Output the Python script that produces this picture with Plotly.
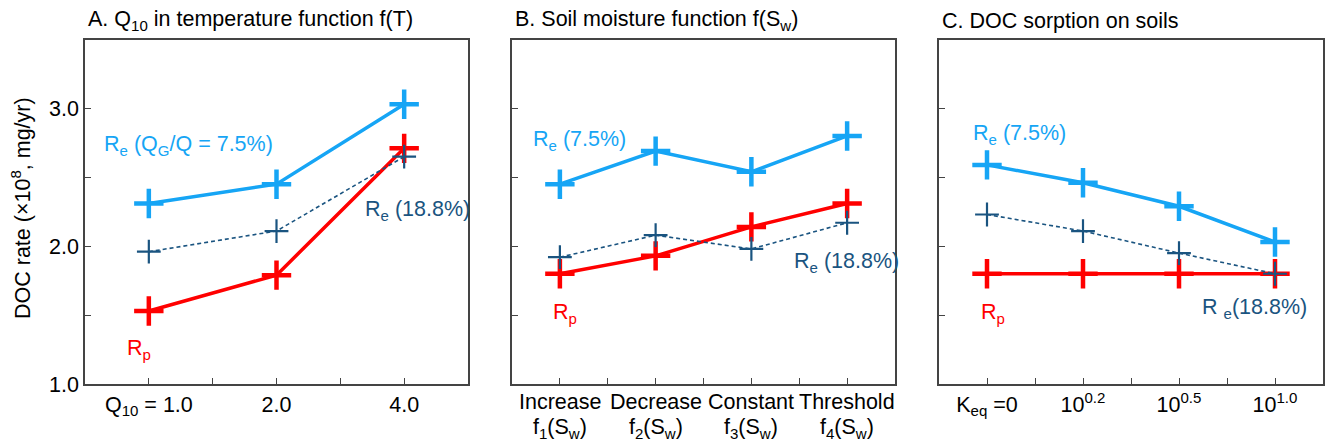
import plotly.graph_objects as go

# ---------------- data ----------------
a_ticks = ["Q<sub>10</sub> = 1.0", "2.0", "4.0"]
a_re75 = [2.31, 2.45, 3.03]
a_rp = [1.53, 1.79, 2.71]
a_re188 = [1.96, 2.11, 2.65]

b_ticks_line1 = ["Increase", "Decrease", "Constant", "Threshold"]
b_ticks_line2 = ["f<sub>1</sub>(S<sub>w</sub>)", "f<sub>2</sub>(S<sub>w</sub>)",
                 "f<sub>3</sub>(S<sub>w</sub>)", "f<sub>4</sub>(S<sub>w</sub>)"]
b_re75 = [2.45, 2.69, 2.54, 2.80]
b_rp = [1.80, 1.93, 2.14, 2.31]
b_re188 = [1.92, 2.08, 1.98, 2.17]

c_ticks = ["K<sub>eq</sub> =0", "10<sup>0.2</sup>", "10<sup>0.5</sup>", "10<sup>1.0</sup>"]
c_re75 = [2.59, 2.46, 2.29, 2.03]
c_rp = [1.80, 1.80, 1.80, 1.80]
c_re188 = [2.23, 2.11, 1.95, 1.80]

y_tickvals = [1.0, 2.0, 3.0]
y_ticktext = ["1.0", "2.0", "3.0"]

LIGHT = "#16A5F5"
RED = "#FF0000"
DARK = "#1A5480"
AXC = "#444444"
FONT = "Liberation Sans, Arial, sans-serif"
FS = 21.5

W, H = 1327, 443
fig = go.Figure()

panels = [
    ("x", "y", a_ticks, a_re75, a_rp, a_re188),
    ("x2", "y2", b_ticks_line1, b_re75, b_rp, b_re188),
    ("x3", "y3", c_ticks, c_re75, c_rp, c_re188),
]

for xa, ya, ticks, re75, rp, re188 in panels:
    xs = list(range(len(ticks)))
    fig.add_trace(go.Scatter(x=xs, y=re75, xaxis=xa, yaxis=ya, mode="lines+markers",
                             line=dict(color=LIGHT, width=3.5),
                             marker=dict(symbol="cross-thin", size=21, line=dict(color=LIGHT, width=4.5)),
                             showlegend=False))
    fig.add_trace(go.Scatter(x=xs, y=rp, xaxis=xa, yaxis=ya, mode="lines+markers",
                             line=dict(color=RED, width=3.5),
                             marker=dict(symbol="cross-thin", size=21, line=dict(color=RED, width=4.5)),
                             showlegend=False))
    fig.add_trace(go.Scatter(x=xs, y=re188, xaxis=xa, yaxis=ya, mode="lines+markers",
                             line=dict(color=DARK, width=1.6, dash="4px,3px"),
                             marker=dict(symbol="cross-thin", size=17, line=dict(color=DARK, width=2.2)),
                             showlegend=False))

def px2paper_x(p):
    return p / W

def px2paper_y(p):
    return 1 - p / H

doms = [(85, 468), (512, 895), (939, 1323)]
ydom = [px2paper_y(384), px2paper_y(39.5)]

common_axis = dict(showline=True, linecolor=AXC, linewidth=1.5, mirror=True,
                   ticks="inside", ticklen=6, tickcolor=AXC, tickwidth=1.3,
                   showgrid=False, zeroline=False,
                   tickfont=dict(family=FONT, size=FS, color="black"))

layout = dict(width=W, height=H, margin=dict(l=0, r=0, t=0, b=0),
              plot_bgcolor="white", paper_bgcolor="white",
              font=dict(family=FONT, size=FS, color="black"))

for i, ((l, r), (xa, ya, ticks, *_)) in enumerate(zip(doms, panels)):
    n = len(ticks)
    xkey = "xaxis" if i == 0 else f"xaxis{i+1}"
    ykey = "yaxis" if i == 0 else f"yaxis{i+1}"
    layout[xkey] = dict(common_axis, domain=[px2paper_x(l), px2paper_x(r)], anchor=ya,
                        range=[-0.5, n - 0.5], tickmode="array", tickvals=list(range(n)),
                        ticktext=ticks, showticklabels=(i != 1), automargin=False,
                        minor=dict(tickmode="array", tickvals=[k + 0.5 for k in range(n - 1)],
                                   ticks="inside", ticklen=6, tickcolor=AXC, tickwidth=1.3))
    layout[ykey] = dict(common_axis, domain=ydom, anchor=xa, range=[1.0, 3.5],
                        tickmode="array", tickvals=y_tickvals, ticktext=y_ticktext,
                        showticklabels=(i == 0), automargin=False,
                        minor=dict(tickmode="array", tickvals=[1.5, 2.5],
                                   ticks="inside", ticklen=6, tickcolor=AXC, tickwidth=1.3))

fig.update_layout(**layout)

annots = []
# panel titles
titles = ["A. Q<sub>10</sub> in temperature function f(T)",
          "B. Soil moisture function f(S<sub>w</sub>)",
          "C. DOC sorption on soils"]
for (l, r), t in zip(doms, titles):
    annots.append(dict(text=t, x=px2paper_x(l + 1), y=px2paper_y(21), xref="paper", yref="paper",
                       xanchor="left", yanchor="middle", align="left", showarrow=False,
                       font=dict(family=FONT, size=FS, color="black")))
# y axis title
annots.append(dict(text="DOC rate (×10<sup>8</sup>, mg/yr)", x=px2paper_x(21), y=px2paper_y(208),
                   xref="paper", yref="paper", textangle=-90, showarrow=False,
                   xanchor="center", yanchor="middle",
                   font=dict(family=FONT, size=FS, color="black")))

# two-line category labels of panel B
for k, (t1, t2) in enumerate(zip(b_ticks_line1, b_ticks_line2)):
    annots.append(dict(text=t1, x=k, y=px2paper_y(402), xref="x2", yref="paper",
                       xanchor="center", yanchor="middle", showarrow=False,
                       font=dict(family=FONT, size=FS, color="black")))
    annots.append(dict(text=t2, x=k, y=px2paper_y(428), xref="x2", yref="paper",
                       xanchor="center", yanchor="middle", showarrow=False,
                       font=dict(family=FONT, size=FS, color="black")))

labels = [
    ("x", "y", -0.37, 2.73, "R<sub>e</sub> (Q<sub>G</sub>/Q = 7.5%)", LIGHT),
    ("x", "y", -0.19, 1.25, "R<sub>p</sub>", RED),
    ("x", "y", 1.68, 2.26, "R<sub>e</sub> (18.8%)", DARK),
    ("x2", "y2", -0.30, 2.77, "R<sub>e</sub> (7.5%)", LIGHT),
    ("x2", "y2", -0.09, 1.51, "R<sub>p</sub>", RED),
    ("x2", "y2", 2.42, 1.88, "R<sub>e</sub> (18.8%)", DARK),
    ("x3", "y3", -0.17, 2.81, "R<sub>e</sub> (7.5%)", LIGHT),
    ("x3", "y3", -0.08, 1.51, "R<sub>p</sub>", RED),
    ("x3", "y3", 2.22, 1.55, "R <sub>e</sub>(18.8%)", DARK),
]
for xr, yr, x, y, t, c in labels:
    annots.append(dict(text=t, x=x, y=y, xref=xr, yref=yr, xanchor="left", yanchor="middle",
                       showarrow=False, font=dict(family=FONT, size=FS, color=c)))

fig.update_layout(annotations=annots)
fig.write_html("out.html")
